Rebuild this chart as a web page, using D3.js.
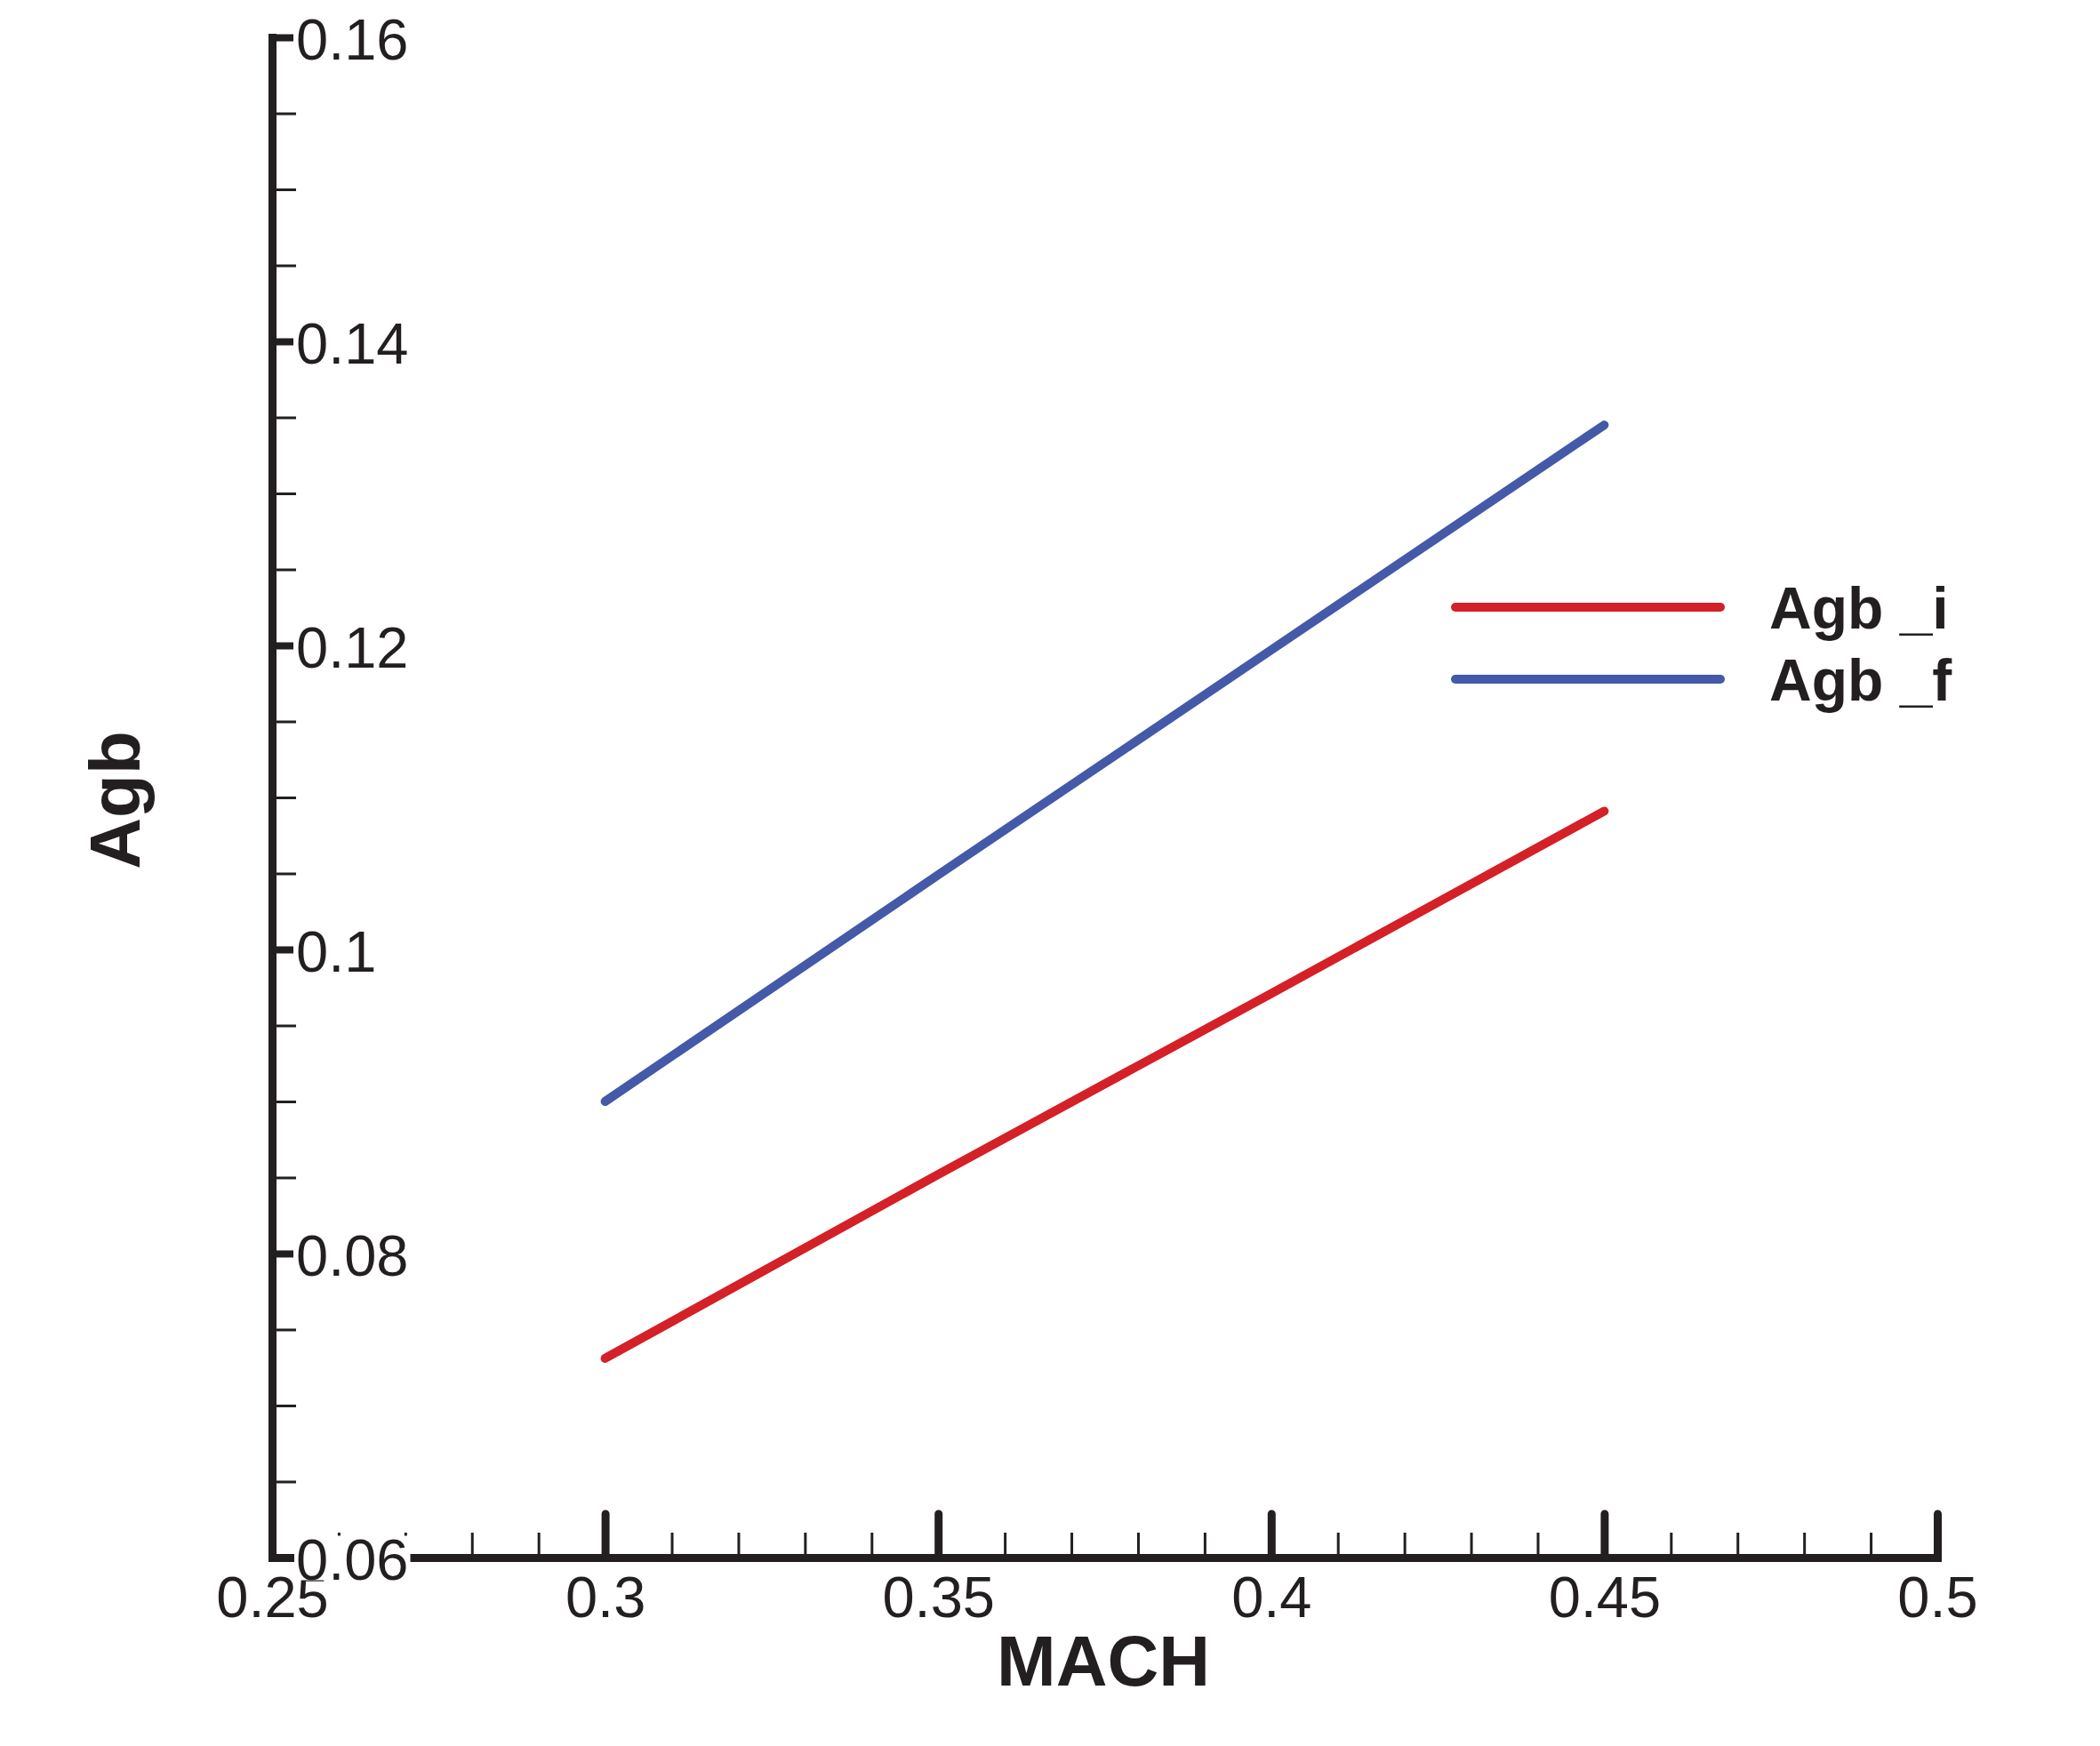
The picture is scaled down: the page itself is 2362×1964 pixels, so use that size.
<!DOCTYPE html>
<html>
<head>
<meta charset="utf-8">
<script src="https://d3js.org/d3.v7.min.js"></script>
<style>
  html, body { margin: 0; padding: 0; background: #fff; }
  svg { display: block; }
  text { font-family: "Liberation Sans", Arial, Helvetica, sans-serif; fill: #231f20; }
</style>
</head>
<body>
<svg id="chart" width="2362" height="1964"></svg>
<script>
// ---- data ----
const mach = [0.30, 0.35, 0.40, 0.45];
const agbI = [0.0731, 0.0852, 0.0971, 0.1091];
const agbF = [0.0900, 0.1049, 0.1197, 0.1345];
const seriesNames = ["Agb _i", "Agb _f"];
const seriesColors = ["#d42027", "#445aa8"];
const xTickValues = [0.25, 0.3, 0.35, 0.4, 0.45, 0.5];
const xTickLabels = ["0.25", "0.3", "0.35", "0.4", "0.45", "0.5"];
const yTickValues = [0.06, 0.08, 0.1, 0.12, 0.14, 0.16];
const yTickLabels = ["0.06", "0.08", "0.1", "0.12", "0.14", "0.16"];
const xTitle = "MACH";
const yTitle = "Agb";

// ---- layout ----
const svg = d3.select("#chart");
const ink = "#231f20";
const x = d3.scaleLinear().domain([0.25, 0.5]).range([306, 2179]);
const y = d3.scaleLinear().domain([0.06, 0.16]).range([1752, 42]);

const xMinor = d3.range(0.25, 0.5001, 0.01).filter(v => !xTickValues.some(t => Math.abs(t - v) < 1e-6));
const yMinor = d3.range(0.06, 0.1601, 0.005).filter(v => !yTickValues.some(t => Math.abs(t - v) < 1e-6));

// series lines
const series = [agbI, agbF];
const line = d3.line().x(d => x(d[0])).y(d => y(d[1]));
series.forEach((vals, i) => {
  svg.append("path")
    .datum(mach.map((m, j) => [m, vals[j]]))
    .attr("d", line)
    .attr("fill", "none")
    .attr("stroke", seriesColors[i])
    .attr("stroke-width", 10)
    .attr("stroke-linecap", "round")
    .attr("stroke-linejoin", "round");
});

// x axis minor ticks
const gxMinor = svg.append("g").attr("transform", `translate(0,${y(0.06)})`)
  .call(d3.axisBottom(x).tickValues(xMinor).tickSize(-28).tickSizeOuter(0).tickFormat(""));
gxMinor.select(".domain").remove();
gxMinor.selectAll(".tick line").attr("stroke", ink).attr("stroke-width", 3);

// x axis major
const gx = svg.append("g").attr("transform", `translate(0,${y(0.06)})`)
  .call(d3.axisBottom(x).tickValues(xTickValues).tickSize(-49).tickSizeOuter(0)
        .tickPadding(21).tickFormat((d, i) => xTickLabels[i]));
gx.select(".domain").attr("stroke", ink).attr("stroke-width", 9).attr("stroke-linecap", "square");
gx.selectAll(".tick line").attr("stroke", ink).attr("stroke-width", 9).attr("stroke-linecap", "round");
gx.selectAll(".tick text").attr("font-size", 65).attr("fill", ink)
  .style("font-family", '"Liberation Sans", Arial, sans-serif');

// y axis minor ticks
const gyMinor = svg.append("g").attr("transform", `translate(${x(0.25)},0)`)
  .call(d3.axisRight(y).tickValues(yMinor).tickSize(27).tickSizeOuter(0).tickFormat(""));
gyMinor.select(".domain").remove();
gyMinor.selectAll(".tick line").attr("stroke", ink).attr("stroke-width", 3);

// y axis major
const gy = svg.append("g").attr("transform", `translate(${x(0.25)},0)`)
  .call(d3.axisRight(y).tickValues(yTickValues).tickSize(24).tickSizeOuter(0)
        .tickPadding(3).tickFormat((d, i) => yTickLabels[i]));
gy.select(".domain").attr("stroke", ink).attr("stroke-width", 9).attr("stroke-linecap", "square");
gy.selectAll(".tick line").attr("stroke", ink).attr("stroke-width", 8);
gy.selectAll(".tick text").attr("font-size", 65).attr("fill", ink).attr("dy", "0.37em")
  .style("font-family", '"Liberation Sans", Arial, sans-serif');
// white backing boxes behind y labels (visible where 0.06 crosses the x axis)
gy.selectAll(".tick").each(function () {
  const t = d3.select(this).select("text");
  const bb = t.node().getBBox();
  d3.select(this).insert("rect", "text")
    .attr("x", bb.x - 2).attr("width", bb.width + 4)
    .attr("y", -25).attr("height", 50)
    .attr("fill", "#fff");
});

// axis titles
svg.append("text")
  .attr("x", 1241).attr("y", 1896)
  .attr("text-anchor", "middle")
  .attr("font-size", 80).attr("font-weight", "bold")
  .text(xTitle);
svg.append("text")
  .attr("transform", "translate(157,900) rotate(-90)")
  .attr("text-anchor", "middle")
  .attr("font-size", 80).attr("font-weight", "bold")
  .text(yTitle);

// legend
const legendY = [683, 764];
seriesNames.forEach((name, i) => {
  svg.append("line")
    .attr("x1", 1637).attr("x2", 1935)
    .attr("y1", legendY[i]).attr("y2", legendY[i])
    .attr("stroke", seriesColors[i]).attr("stroke-width", 10)
    .attr("stroke-linecap", "round");
  svg.append("text")
    .attr("x", 1990).attr("y", legendY[i] + 24)
    .attr("font-size", 66).attr("font-weight", "bold")
    .text(name);
});
</script>
</body>
</html>
